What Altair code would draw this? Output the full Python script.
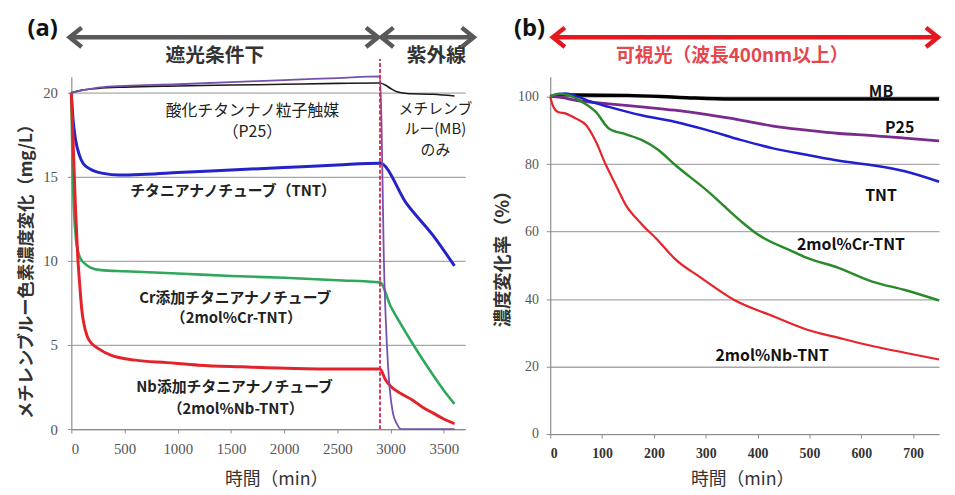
import altair as alt
import pandas as pd

SANS = "Noto Sans CJK JP"
SERIF = "Liberation Serif"

# ---------------- panel (a): concentration (mg/L) vs time (min) ----------------
a_mb_t = [0, 100, 250, 500, 1000, 1500, 2000, 2500, 2900, 2950, 3000, 3060, 3150, 3400, 3600]
a_mb_v = [20.0, 20.15, 20.25, 20.33, 20.4, 20.45, 20.5, 20.55, 20.57, 20.45, 20.25, 20.05, 19.95, 19.9, 19.8]

a_p25_t = [0, 150, 300, 1000, 1500, 2000, 2500, 2900, 2915, 2935, 2965, 2990, 3020, 3060, 3100, 3600]
a_p25_v = [20.0, 20.2, 20.33, 20.5, 20.62, 20.75, 20.87, 20.97, 18.0, 10.5, 5.0, 2.5, 1.0, 0.3, 0.0, 0.0]

a_tnt_t = [0, 15, 40, 75, 110, 180, 300, 450, 700, 1000, 1500, 2000, 2500, 2900, 3150, 3400, 3600]
a_tnt_v = [20.0, 18.5, 17.2, 16.3, 15.8, 15.45, 15.2, 15.1, 15.15, 15.25, 15.4, 15.55, 15.7, 15.8, 13.4, 11.5, 9.7]

a_cr_t = [0, 10, 25, 45, 70, 100, 124, 180, 280, 500, 1000, 1500, 2000, 2500, 2900, 3000, 3100, 3200, 3300, 3400, 3500, 3600]
a_cr_v = [20.0, 16.0, 13.0, 11.2, 10.4, 10.0, 9.85, 9.6, 9.45, 9.38, 9.25, 9.1, 9.0, 8.85, 8.72, 7.3, 6.2, 5.15, 4.15, 3.2, 2.3, 1.5]

a_nb_t = [0, 20, 40, 60, 80, 100, 120, 150, 190, 250, 370, 600, 900, 1200, 1600, 2100, 2500, 2900, 2950, 3000, 3100, 3200, 3300, 3400, 3500, 3600]
a_nb_v = [20.0, 16.5, 13.0, 10.3, 8.5, 7.0, 6.2, 5.5, 5.1, 4.8, 4.4, 4.1, 3.95, 3.8, 3.7, 3.6, 3.57, 3.57, 2.95, 2.55, 2.1, 1.75, 1.3, 0.95, 0.6, 0.33]

a_switch_time = [2900]
a_xticks = [0, 500, 1000, 1500, 2000, 2500, 3000, 3500]
a_yticks = [0, 5, 10, 15, 20]

a_notes_regular = ["酸化チタンナノ粒子触媒", "（P25）"]
a_notes_regular_t = [1701, 1701]
a_notes_regular_v = [18.92, 17.66]
a_notes_mb = ["メチレンブ", "ルー(MB)", "のみ"]
a_notes_mb_t = [3421, 3421, 3421]
a_notes_mb_v = [19.0, 17.82, 16.56]
a_notes_bold = ["チタニアナノチューブ（TNT）", "Cr添加チタニアナノチューブ", "（2mol%Cr-TNT）",
                "Nb添加チタニアナノチューブ", "（2mol%Nb-TNT）"]
a_notes_bold_t = [1520, 1541, 1550, 1534, 1543]
a_notes_bold_v = [14.16, 7.78, 6.6, 2.49, 1.22]

a_arrow_start = [-16, 2913]
a_arrow_end = [2882, 3781]

# ---------------- panel (b): concentration ratio (%) vs time (min) ----------------
b_mb_t = [0, 20, 50, 150, 250, 350, 500, 750]
b_mb_v = [100.0, 100.6, 100.5, 100.4, 99.8, 99.3, 99.3, 99.3]

b_p25_t = [0, 20, 50, 113, 176, 240, 303, 367, 430, 494, 557, 621, 684, 750]
b_p25_v = [100.0, 99.8, 98.9, 97.9, 97.0, 96.0, 94.7, 93.1, 91.3, 90.1, 89.1, 88.5, 87.7, 86.9]

b_tnt_t = [0, 15, 30, 50, 81, 113, 176, 240, 303, 367, 430, 494, 557, 621, 684, 750]
b_tnt_v = [100.0, 100.8, 101.0, 100.2, 98.4, 97.0, 94.5, 92.6, 90.1, 87.2, 84.7, 82.8, 81.0, 79.7, 77.9, 74.8]

b_cr_t = [0, 15, 37, 62, 88, 113, 145, 176, 208, 240, 303, 367, 399, 462, 494, 557, 621, 684, 750]
b_cr_v = [100.0, 100.8, 100.4, 98.4, 95.5, 90.6, 88.9, 87.2, 84.3, 79.9, 72.1, 63.2, 59.3, 54.5, 52.3, 49.2, 45.2, 42.7, 39.6]

b_nb_t = [0, 5, 15, 30, 50, 69, 88, 107, 126, 145, 176, 208, 240, 291, 354, 430, 494, 557, 621, 684, 750]
b_nb_v = [100.0, 97.4, 95.5, 95.0, 93.5, 91.6, 86.7, 79.9, 74.0, 68.1, 62.3, 57.4, 52.0, 46.3, 39.8, 34.9, 31.0, 28.5, 26.1, 24.1, 22.1]

b_xticks = [0, 100, 200, 300, 400, 500, 600, 700]
b_yticks = [0, 20, 40, 60, 80, 100]

b_notes = ["MB", "P25", "TNT", "2mol%Cr-TNT", "2mol%Nb-TNT"]
b_notes_t = [638, 674, 638, 580, 428]
b_notes_v = [101.4, 90.6, 70.6, 55.9, 23.2]

b_arrow_start = [5]
b_arrow_end = [748]

# ---------------- helpers ----------------
LEFT_HEAD = "M1.25,-1L0,0L1.25,1"
RIGHT_HEAD = "M-1.25,-1L0,0L-1.25,1"


def df(t, v):
    return pd.DataFrame({"t": t, "v": v})


def make_panel(xs, ys, x_axis, y_axis, series, notes, headers, arrows, width, height, extra=()):
    def X():
        return alt.X("t:Q", scale=xs, axis=x_axis)

    def Y():
        return alt.Y("v:Q", scale=ys, axis=y_axis)

    layers = []
    for (t, v, color, sw) in series:
        layers.append(
            alt.Chart(df(t, v)).mark_line(interpolate="monotone", color=color, strokeWidth=sw, clip=False)
            .encode(x=X(), y=Y())
        )
    layers.extend(extra_fn(X, Y) for extra_fn in extra)
    for (labels, t, v, props) in notes:
        d = pd.DataFrame({"t": t, "v": v, "label": labels})
        layers.append(alt.Chart(d).mark_text(**props).encode(x=X(), y=Y(), text="label:N"))
    for (start, end, color, yv) in arrows:
        d = pd.DataFrame({"t": start, "t2": end})
        layers.append(alt.Chart(d).mark_rule(color=color, strokeWidth=4.5)
                      .encode(x=X(), x2="t2:Q", y=alt.value(yv)))
        layers.append(alt.Chart(pd.DataFrame({"t": start})).mark_point(
            shape=LEFT_HEAD, size=380, filled=False, color=color, strokeWidth=4.5, opacity=1,
            strokeJoin="miter").encode(x=X(), y=alt.value(yv)))
        layers.append(alt.Chart(pd.DataFrame({"t": end})).mark_point(
            shape=RIGHT_HEAD, size=380, filled=False, color=color, strokeWidth=4.5, opacity=1,
            strokeJoin="miter").encode(x=X(), y=alt.value(yv)))
    for (label, px, py, props) in headers:
        layers.append(alt.Chart(pd.DataFrame({"label": [label]})).mark_text(**props)
                      .encode(text="label:N", x=alt.value(px), y=alt.value(py)))
    return alt.layer(*layers).properties(width=width, height=height)


# ---------------- panel (a) ----------------
xa = alt.Scale(domain=[0, 3700], nice=False, zero=False)
ya = alt.Scale(domain=[0, 20.94], nice=False, zero=False)

xa_axis = alt.Axis(values=a_xticks, format="d", grid=False, title="時間（min）", labelFont=SERIF,
                   labelFontSize=15, labelColor="#555555", labelPadding=9, tickSize=4,
                   tickColor="#8c8c8c", domainColor="#8c8c8c", domainWidth=1.2, titleFont=SANS,
                   titleFontSize=18, titleFontWeight="normal", titleColor="#333333", titleX=207,
                   titleY=51, titleBaseline="middle", titleAlign="center")
ya_axis = alt.Axis(values=a_yticks, format="d", grid=True, gridColor="#a8a8a8", gridWidth=1.3,
                   title="メチレンブルー色素濃度変化（mg/L）", labelFont=SERIF, labelFontSize=15,
                   labelColor="#555555", labelPadding=10, tickSize=4, tickColor="#8c8c8c",
                   domainColor="#8c8c8c", domainWidth=1.2, titleFont=SANS, titleFontSize=17.5,
                   titleFontWeight="bold", titleColor="#333333", titleX=-45, titleY=192,
                   titleAngle=270, titleBaseline="middle", titleAlign="center")


def a_switch(X, Y):
    d = pd.DataFrame({"t": a_switch_time, "v": [0], "v2": [22.0]})
    return alt.Chart(d).mark_rule(color="#d3234f", strokeDash=[4, 2], strokeWidth=1.8).encode(
        x=X(), y=Y(), y2="v2:Q")


panel_a = make_panel(
    xa, ya, xa_axis, ya_axis,
    series=[
        (a_mb_t, a_mb_v, "#1a1a1a", 1.6),
        (a_tnt_t, a_tnt_v, "#2323c8", 3.0),
        (a_cr_t, a_cr_v, "#2ea85a", 2.6),
        (a_nb_t, a_nb_v, "#e3232a", 3.0),
        (a_p25_t, a_p25_v, "#7650ad", 1.8),
    ],
    notes=[
        (a_notes_regular, a_notes_regular_t, a_notes_regular_v,
         dict(font=SANS, fontSize=16, color="#222222", align="center", baseline="middle")),
        (a_notes_mb, a_notes_mb_t, a_notes_mb_v,
         dict(font=SANS, fontSize=15, color="#222222", align="center", baseline="middle")),
        (a_notes_bold, a_notes_bold_t, a_notes_bold_v,
         dict(font=SANS, fontSize=15, fontWeight="bold", color="#222222", align="center", baseline="middle")),
    ],
    headers=[
        ("(a)", -29, -48, dict(font="Open Sans", fontSize=24, fontWeight="bold", color="#111111",
                               align="center", baseline="middle")),
        ("遮光条件下", 145, -21, dict(font=SANS, fontSize=20, fontWeight="bold", color="#333333",
                                 align="center", baseline="middle")),
        ("紫外線", 369, -21, dict(font=SANS, fontSize=20, fontWeight="bold", color="#333333",
                               align="center", baseline="middle")),
    ],
    arrows=[(a_arrow_start, a_arrow_end, "#595959", -40)],
    width=398, height=356,
    extra=(a_switch,),
)

# ---------------- panel (b) ----------------
xb = alt.Scale(domain=[0, 750], nice=False, zero=False)
yb = alt.Scale(domain=[0, 105.9], nice=False, zero=False)

xb_axis = alt.Axis(values=b_xticks, format="d", grid=False, title="時間（min）", labelFont=SERIF,
                   labelFontSize=14, labelFontWeight="bold", labelColor="#333333", labelPadding=9,
                   tickSize=4, tickColor="#8c8c8c", domainColor="#8c8c8c", domainWidth=1.2,
                   titleFont=SANS, titleFontSize=18, titleFontWeight="normal", titleColor="#333333",
                   titleX=194, titleY=46, titleBaseline="middle", titleAlign="center")
yb_axis = alt.Axis(values=b_yticks, format="d", grid=True, gridColor="#a8a8a8", gridWidth=1.3,
                   title="濃度変化率（%）", labelFont=SERIF, labelFontSize=14, labelColor="#555555",
                   labelPadding=8, tickSize=4, tickColor="#8c8c8c", domainColor="#8c8c8c",
                   domainWidth=1.2, titleFont=SANS, titleFontSize=18.5, titleFontWeight="bold",
                   titleColor="#333333", titleX=-48, titleY=179, titleAngle=270,
                   titleBaseline="middle", titleAlign="center")

panel_b = make_panel(
    xb, yb, xb_axis, yb_axis,
    series=[
        (b_mb_t, b_mb_v, "#000000", 3.5),
        (b_p25_t, b_p25_v, "#7a2a8c", 2.8),
        (b_tnt_t, b_tnt_v, "#1f1fd0", 2.5),
        (b_cr_t, b_cr_v, "#2a8a2a", 2.5),
        (b_nb_t, b_nb_v, "#e8232a", 2.2),
    ],
    notes=[
        (b_notes, b_notes_t, b_notes_v,
         dict(font=SANS, fontSize=16, fontWeight="bold", color="#111111", align="center", baseline="middle")),
    ],
    headers=[
        ("(b)", -21, -48, dict(font="Open Sans", fontSize=24, fontWeight="bold", color="#111111",
                               align="center", baseline="middle")),
        ("可視光（波長400nm以上）", 184, -21, dict(font=SANS, fontSize=19, fontWeight="bold",
                                            color="#e4474c", align="center", baseline="middle")),
    ],
    arrows=[(b_arrow_start, b_arrow_end, "#e5171f", -40)],
    width=393, height=361,
)

chart = (
    alt.hconcat(panel_a, panel_b, spacing=86, bounds="flush")
    .properties(padding={"left": 9, "top": 7, "right": 0, "bottom": 0})
    .configure_view(stroke=None)
)

chart.save("out.html", embed_options={"renderer": "svg", "actions": False})
